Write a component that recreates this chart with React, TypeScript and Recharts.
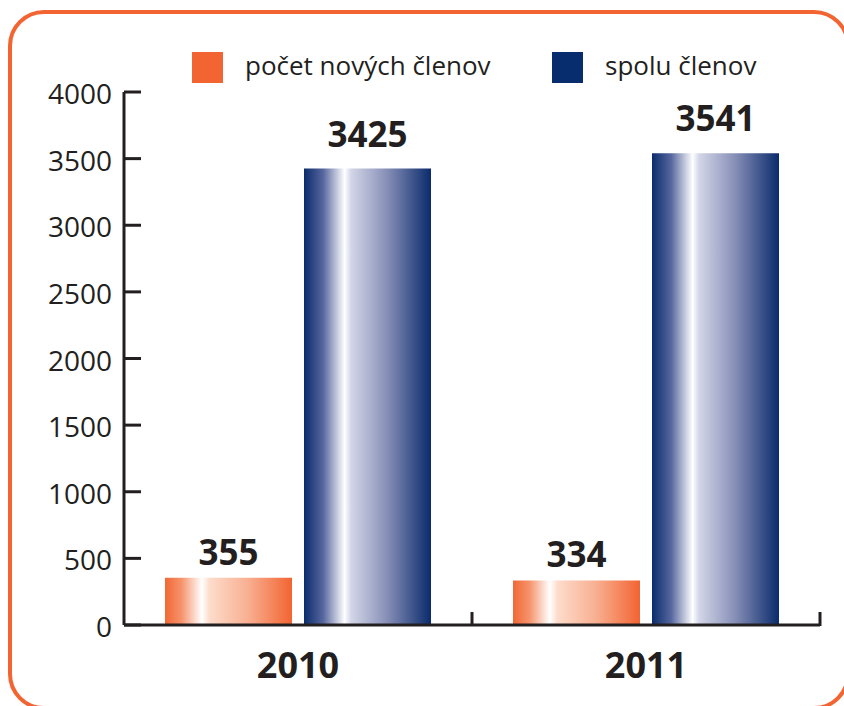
import React from 'react';
import { BarChart, Bar, XAxis, YAxis, LabelList } from 'recharts';

const years = ['2010', '2011'];
const newMembers = [355, 334];
const totalMembers = [3425, 3541];
const yTicks = [0, 500, 1000, 1500, 2000, 2500, 3000, 3500, 4000];
const seriesNames = ['počet nových členov', 'spolu členov'];
const seriesColors = ['#F26532', '#082D6E'];

const data = years.map((y, i) => ({ year: y, nove: newMembers[i], spolu: totalMembers[i] }));

const INK = '#231F20';
const FONT = '"Open Sans", "Noto Sans", sans-serif';

function YTick(props: any) {
  const { x, y, payload } = props;
  return (
    <g>
      <line x1={x} x2={x + 17} y1={y} y2={y} stroke={INK} strokeWidth={3} />
      <text x={x - 12} y={y + 12} textAnchor="end" fontSize={28} fontFamily={FONT} fill={INK}>
        {payload.value}
      </text>
    </g>
  );
}

function XTick(props: any) {
  const { x, y, payload } = props;
  const half = payload && typeof payload.offset === 'number' ? payload.offset : 0;
  return (
    <g>
      <line x1={x + half} x2={x + half} y1={y + 1} y2={y - 13} stroke={INK} strokeWidth={3} />
      <text x={x} y={y + 53} textAnchor="middle" fontSize={36} fontWeight={700} fontFamily={FONT} fill={INK}>
        {payload.value}
      </text>
    </g>
  );
}

const makeLabel = (gap: number) => (props: any) => {
  const { x, y, width, value } = props;
  return (
    <text x={x + width / 2} y={y - gap} textAnchor="middle" fontSize={35} fontWeight={700} fontFamily={FONT} fill={INK}>
      {value}
    </text>
  );
};

export default function App() {
  return (
    <div style={{ position: 'fixed', left: 0, top: 0, width: 844, height: 706, overflow: 'hidden', background: '#fff' }}>
      <div
        style={{
          position: 'absolute',
          left: 8,
          top: 10,
          width: 842,
          height: 700,
          boxSizing: 'border-box',
          border: '4px solid #F26532',
          borderRadius: 36,
        }}
      />
      <div style={{ position: 'absolute', left: 0, top: 0 }}>
        <BarChart width={844} height={706} data={data} margin={{ top: 92, right: 24, bottom: 21, left: 0 }} barSize={127} barGap={12}>
          <defs>
            <linearGradient id="gradOrange" x1="0" y1="0" x2="1" y2="0">
              <stop offset="0" stopColor="#F26735" />
              <stop offset="0.13" stopColor="#F6936C" />
              <stop offset="0.29" stopColor="#FFFFFF" />
              <stop offset="0.35" stopColor="#FDDCCB" />
              <stop offset="0.65" stopColor="#F8B092" />
              <stop offset="1" stopColor="#F26432" />
            </linearGradient>
            <linearGradient id="gradBlue" x1="0" y1="0" x2="1" y2="0">
              <stop offset="0" stopColor="#0A2C6C" />
              <stop offset="0.15" stopColor="#56669E" />
              <stop offset="0.32" stopColor="#FFFFFF" />
              <stop offset="0.37" stopColor="#D3D6E7" />
              <stop offset="0.65" stopColor="#8890B8" />
              <stop offset="1" stopColor="#0A2B6C" />
            </linearGradient>
          </defs>
          <XAxis
            dataKey="year"
            height={60}
            tickSize={0}
            tickMargin={0}
            axisLine={{ stroke: INK, strokeWidth: 3 }}
            tickLine={false}
            tick={<XTick />}
            interval={0}
          />
          <YAxis
            width={124}
            domain={[0, 4000]}
            ticks={yTicks}
            tickSize={0}
            tickMargin={0}
            axisLine={{ stroke: INK, strokeWidth: 3 }}
            tickLine={false}
            tick={<YTick />}
            interval={0}
          />
          <Bar dataKey="nove" name={seriesNames[0]} fill="url(#gradOrange)" isAnimationActive={false}>
            <LabelList dataKey="nove" content={makeLabel(13)} />
          </Bar>
          <Bar dataKey="spolu" name={seriesNames[1]} fill="url(#gradBlue)" isAnimationActive={false}>
            <LabelList dataKey="spolu" content={makeLabel(22)} />
          </Bar>
        </BarChart>
      </div>
      {seriesNames.map((name, i) => (
        <div
          key={name}
          style={{ position: 'absolute', left: i === 0 ? 192 : 552, top: 52, height: 31, display: 'flex', alignItems: 'center' }}
        >
          <div style={{ width: 31, height: 31, background: seriesColors[i] }} />
          <span style={{ marginLeft: 22, fontFamily: FONT, fontSize: 26, color: INK, whiteSpace: 'nowrap', lineHeight: '31px', position: 'relative', top: -2 }}>
            {name}
          </span>
        </div>
      ))}
    </div>
  );
}
